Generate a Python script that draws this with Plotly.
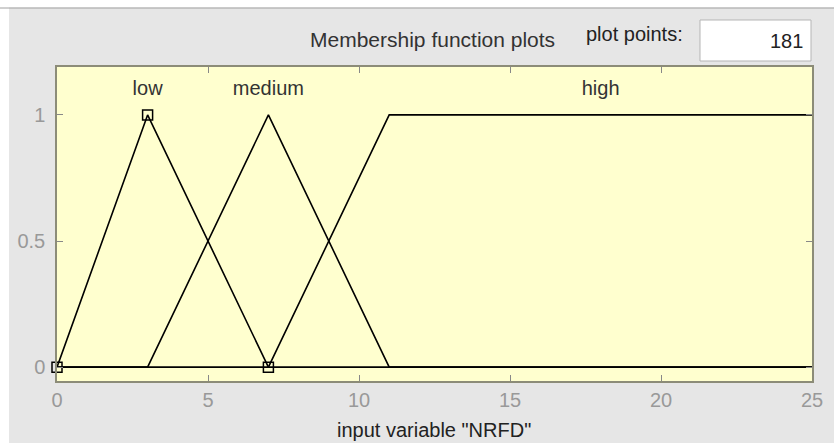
import plotly.graph_objects as go

# Membership function breakpoints (input variable "NRFD", range 0..25)
mf_names = ["low", "medium", "high"]
low_x = [0, 3, 7, 25]
low_y = [0, 1, 0, 0]
medium_x = [0, 3, 7, 11, 25]
medium_y = [0, 0, 1, 0, 0]
high_x = [0, 7, 11, 25]
high_y = [0, 0, 1, 1]
# selected MF (low) vertex markers
sel_x = [0, 3, 7]
sel_y = [0, 1, 0]
# label positions
label_x = [3, 7, 18]
label_y = [1.1, 1.1, 1.1]
x_ticks = [0, 5, 10, 15, 20, 25]
y_ticks = [0, 0.5, 1]
y_tick_text = ["0", "0.5", "1"]
plot_points = "181"

FONT = "Liberation Sans, Arial, sans-serif"
L, R, T, B = 57, 22, 67, 65
W, H = 834, 446
PW, PH = W - L - R, H - T - B


def px(x):
    return (x - L) / PW


def py(y):
    return (H - B - y) / PH


fig = go.Figure()
for xs, ys in [(low_x, low_y), (medium_x, medium_y), (high_x, high_y)]:
    fig.add_trace(go.Scatter(x=xs, y=ys, mode="lines",
                             line=dict(color="black", width=1.6),
                             hoverinfo="skip", showlegend=False, cliponaxis=False))
fig.add_trace(go.Scatter(x=sel_x, y=sel_y, mode="markers",
                         marker=dict(symbol="square-open", size=10, color="black",
                                     line=dict(width=1.5)),
                         showlegend=False, cliponaxis=False))
fig.add_trace(go.Scatter(x=label_x, y=label_y, mode="text", text=mf_names,
                         textfont=dict(family=FONT, size=20, color="#333"),
                         showlegend=False))

fig.update_layout(
    width=W, height=H,
    margin=dict(l=L, r=R, t=T, b=B),
    paper_bgcolor="#e6e6e6",
    plot_bgcolor="#ffffcf",
    xaxis=dict(range=[0, 25], tickvals=x_ticks, ticks="inside", ticklen=6,
               tickcolor="#888", showgrid=False, zeroline=False, automargin=False,
               showline=True, linecolor="#8c8c78", linewidth=1.5, mirror="ticks",
               ticklabelstandoff=0,
               tickfont=dict(family=FONT, size=20, color="#999")),
    yaxis=dict(range=[-0.055, 1.19], tickvals=y_ticks, ticktext=y_tick_text,
               ticks="inside", ticklen=6, tickcolor="#888", showgrid=False,
               zeroline=False, showline=True, linecolor="#8c8c78", linewidth=1.5,
               mirror="ticks", automargin=False, ticklabelstandoff=6,
               tickfont=dict(family=FONT, size=20, color="#999")),
    shapes=[
        dict(type="rect", xref="paper", yref="paper", x0=px(-5), x1=px(W + 5),
             y0=py(7.5), y1=py(-5), fillcolor="white", line=dict(width=0),
             layer="below"),
        dict(type="rect", xref="paper", yref="paper", x0=px(-5), x1=px(9),
             y0=py(H + 5), y1=py(-5), fillcolor="white", line=dict(width=0),
             layer="below"),
        dict(type="rect", xref="paper", yref="paper", x0=px(-5), x1=px(W + 5),
             y0=py(H + 5), y1=py(443), fillcolor="white", line=dict(width=0),
             layer="below"),
        dict(type="line", xref="paper", yref="paper", x0=px(0), x1=px(W),
             y0=py(8), y1=py(8), line=dict(color="#a0a0a0", width=1)),
        dict(type="rect", xref="paper", yref="paper",
             x0=px(700), x1=px(811), y0=py(61), y1=py(20),
             fillcolor="white", line=dict(color="#b5b5b5", width=1)),
    ],
    annotations=[
        dict(text="Membership function plots", xref="paper", yref="paper",
             x=px(432), y=py(40), xanchor="center", yanchor="middle",
             showarrow=False, font=dict(family=FONT, size=21, color="#333")),
        dict(text="plot points:", xref="paper", yref="paper",
             x=px(634), y=py(34), xanchor="center", yanchor="middle",
             showarrow=False, font=dict(family=FONT, size=20, color="#222")),
        dict(text=plot_points, xref="paper", yref="paper",
             x=px(805), y=py(41), xanchor="right", yanchor="middle",
             showarrow=False, font=dict(family=FONT, size=20, color="#222")),
        dict(text='input variable "NRFD"', xref="paper", yref="paper",
             x=px(434), y=py(430), xanchor="center", yanchor="middle",
             showarrow=False, font=dict(family=FONT, size=20, color="#222")),
    ],
)

fig.write_html("out.html", config={"displayModeBar": False},
               post_script="document.body.style.margin='0';")
